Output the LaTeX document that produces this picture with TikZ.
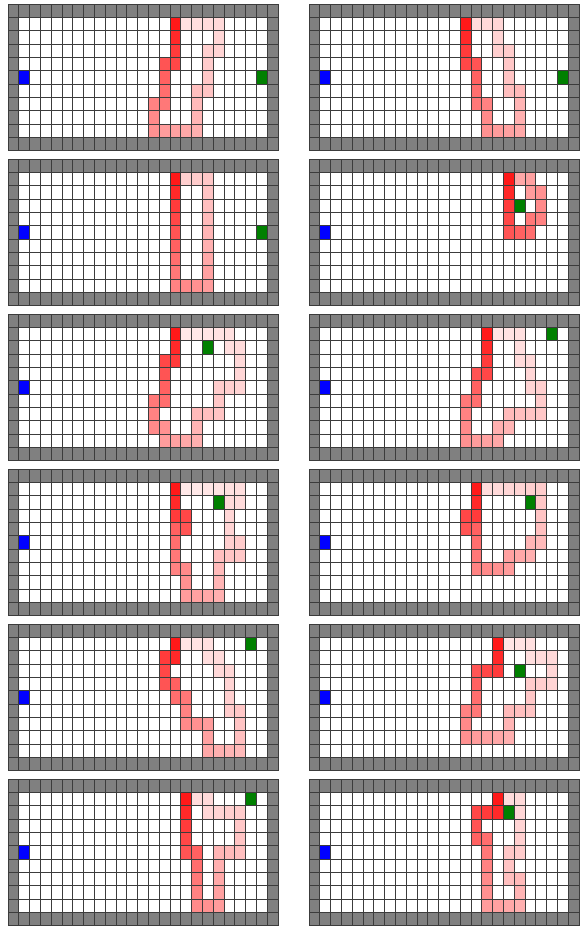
\documentclass[tikz,border=0pt]{standalone}
\definecolor{wallgray}{HTML}{808080}
\definecolor{linegray}{HTML}{3C3C3C}
\definecolor{agentblue}{HTML}{0000FF}
\definecolor{goalgreen}{HTML}{008000}
\def\cw{10.8}
\def\ch{13.33}
\tikzset{gridline/.style={draw=linegray, line width=0.55pt}}
\newcommand\gridpanel[5]{%
  \begin{scope}[shift={(#1,#2)}]
    \fill[wallgray] (0,0) rectangle (25*\cw,11*\ch);
    \fill[white] (\cw,\ch) rectangle (24*\cw,10*\ch);
    \foreach \c/\r [count=\i from 0] in {#5} {
      \pgfmathtruncatemacro\pct{round(90*exp(-0.075*\i))}
      \fill[red!\pct!white] (\c*\cw,\r*\ch) rectangle ++(\cw,\ch);
    }
    \fill[agentblue] (\cw,5*\ch) rectangle ++(\cw,\ch);
    \fill[goalgreen] (#3*\cw,#4*\ch) rectangle ++(\cw,\ch);
    \foreach \k in {0,...,25} \draw[gridline] (\k*\cw,0) -- (\k*\cw,11*\ch);
    \foreach \k in {0,...,11} \draw[gridline] (0,\k*\ch) -- (25*\cw,\k*\ch);
  \end{scope}}
\begin{document}
\begin{tikzpicture}[x=0.75pt,y=-0.75pt]
\useasboundingbox (0,0) rectangle (582,926);
\fill[white] (0,0) rectangle (582,926);
% row 1
\gridpanel{8}{4}{23}{5}{15/1,15/2,15/3,15/4,14/4,14/5,14/6,14/7,13/7,13/8,13/9,14/9,15/9,16/9,17/9,17/8,17/7,17/6,18/6,18/5,18/4,18/3,19/3,19/2,19/1,18/1,17/1,16/1}
\gridpanel{309}{4}{23}{5}{14/1,14/2,14/3,14/4,15/4,15/5,15/6,15/7,16/7,16/8,16/9,17/9,18/9,19/9,19/8,19/7,19/6,18/6,18/5,18/4,18/3,17/3,17/2,17/1,16/1,15/1}
% row 2
\gridpanel{8}{159}{23}{5}{15/1,15/2,15/3,15/4,15/5,15/6,15/7,15/8,15/9,16/9,17/9,18/9,18/8,18/7,18/6,18/5,18/4,18/3,18/2,18/1,17/1,16/1}
\gridpanel{309}{159}{19}{3}{18/1,18/2,18/3,18/4,18/5,19/5,20/5,20/4,21/4,21/3,21/2,20/2,20/1,19/1}
% row 3
\gridpanel{8}{314}{18}{2}{15/1,15/2,15/3,14/3,14/4,14/5,14/6,13/6,13/7,13/8,14/8,14/9,15/9,16/9,17/9,17/8,17/7,18/7,19/7,19/6,19/5,20/5,21/5,21/4,21/3,21/2,20/2,20/1,19/1,18/1,17/1,16/1}
\gridpanel{309}{314}{22}{1}{16/1,16/2,16/3,16/4,15/4,15/5,15/6,14/6,14/7,14/8,14/9,15/9,16/9,17/9,17/8,18/8,18/7,19/7,20/7,21/7,21/6,21/5,20/5,20/4,20/3,19/3,19/2,19/1,18/1,17/1}
% row 4
\gridpanel{8}{469}{19}{2}{15/1,15/2,15/3,16/3,16/4,15/4,15/5,15/6,15/7,16/7,16/8,16/9,17/9,18/9,19/9,19/8,19/7,19/6,20/6,21/6,21/5,20/5,20/4,20/3,20/2,21/2,21/1,20/1,19/1,18/1,17/1,16/1}
\gridpanel{309}{469}{20}{2}{15/1,15/2,15/3,14/3,14/4,15/4,15/5,15/6,15/7,16/7,17/7,18/7,18/6,19/6,20/6,20/5,21/5,21/4,21/3,21/2,21/1,20/1,19/1,18/1,17/1,16/1}
% row 5
\gridpanel{8}{624}{22}{1}{15/1,15/2,14/2,14/3,14/4,15/4,15/5,16/5,16/6,16/7,17/7,18/7,18/8,18/9,19/9,20/9,21/9,21/8,21/7,21/6,20/6,20/5,20/4,20/3,19/3,19/2,18/2,18/1,17/1,16/1}
\gridpanel{309}{624}{19}{3}{17/1,17/2,17/3,16/3,15/3,15/4,15/5,15/6,14/6,14/7,14/8,15/8,16/8,17/8,18/8,18/7,18/6,19/6,20/6,20/5,20/4,21/4,22/4,22/3,22/2,21/2,20/2,20/1,19/1,18/1}
% row 6
\gridpanel{8}{779}{22}{1}{16/1,16/2,16/3,16/4,16/5,17/5,17/6,17/7,17/8,17/9,18/9,19/9,19/8,19/7,19/6,19/5,20/5,21/5,21/4,21/3,21/2,20/2,19/2,18/2,18/1,17/1}
\gridpanel{309}{779}{18}{2}{17/1,17/2,16/2,15/2,15/3,15/4,16/4,16/5,16/6,16/7,16/8,16/9,17/9,18/9,19/9,19/8,19/7,18/7,18/6,18/5,19/5,19/4,19/3,19/2,19/1,18/1}
\end{tikzpicture}
\end{document}
